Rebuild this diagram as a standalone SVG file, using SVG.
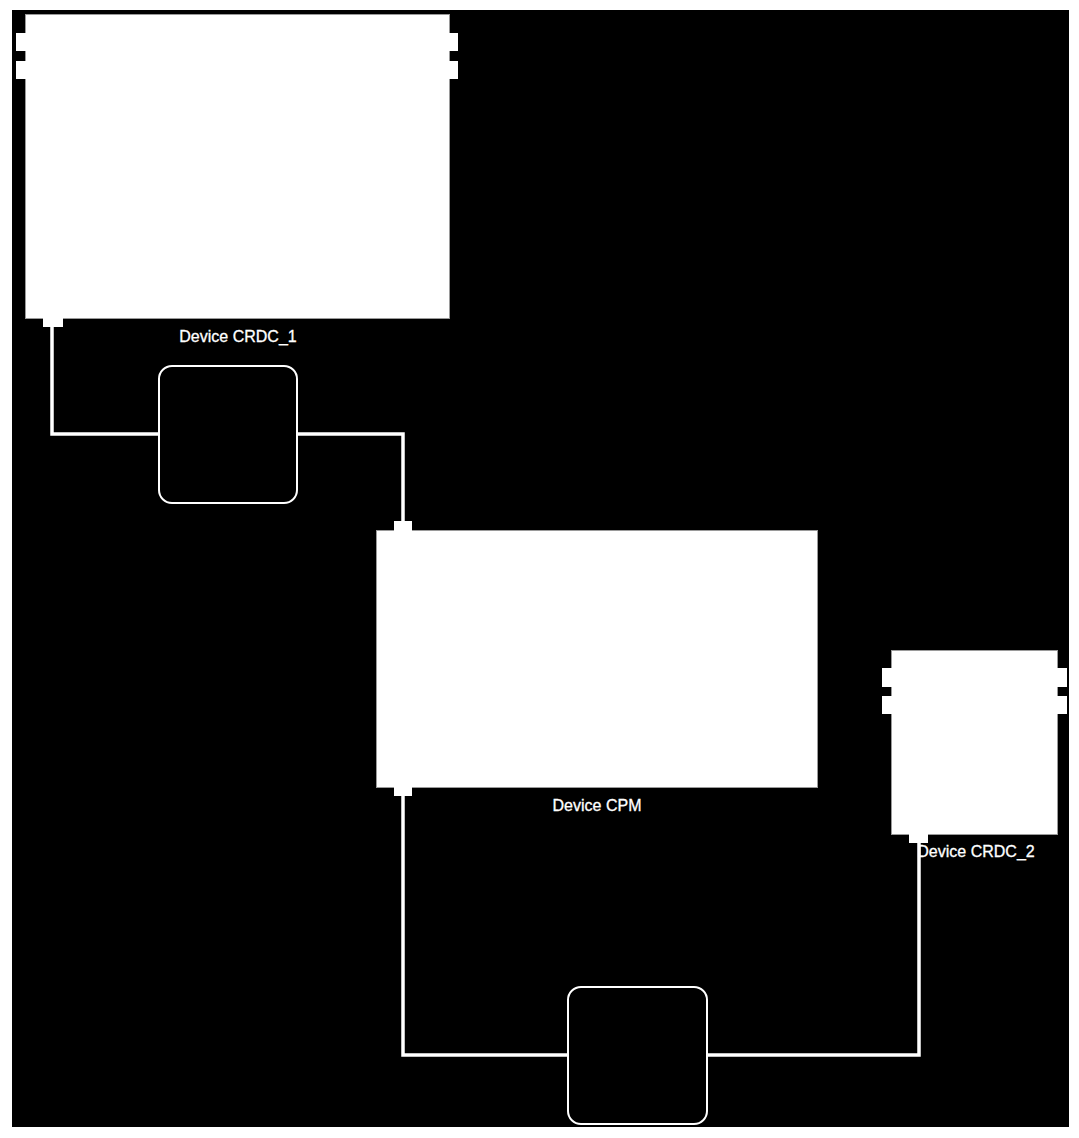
<svg xmlns="http://www.w3.org/2000/svg" width="1079" height="1138" viewBox="0 0 1079 1138">
<style>
.dev{fill:#ffffff;stroke:#9a9a9a;stroke-width:1}
.port{fill:#ffffff;stroke:none}
.link{fill:#000000;stroke:#ffffff;stroke-width:2}
.conn{fill:none;stroke:#ffffff;stroke-width:3.5}
.lbl{font-family:"Liberation Sans",Arial,sans-serif;font-size:16px;fill:#ffffff;text-anchor:middle;stroke:#ffffff;stroke-width:0.3}
</style>
<rect x="0" y="0" width="1079" height="1138" fill="#ffffff"/>
<rect x="12" y="10" width="1057" height="1117" fill="#000000"/>
<g id="connectors">
<polyline class="conn" points="52,327 52,434 159,434"/>
<polyline class="conn" points="297,434 403,434 403,521"/>
<polyline class="conn" points="403,796 403,1055 568,1055"/>
<polyline class="conn" points="707,1055 919,1055 919,843"/>
</g>
<g id="crdc1">
<rect class="dev" x="25.5" y="14.5" width="424" height="304"/>
<rect class="port" x="16" y="33" width="11" height="18"/>
<rect class="port" x="16" y="61" width="11" height="18"/>
<rect class="port" x="448" y="33" width="10" height="18"/>
<rect class="port" x="448" y="61" width="10" height="18"/>
<rect class="port" x="43" y="318" width="20" height="9"/>
<text class="lbl" x="238" y="342">Device CRDC_1</text>
</g>
<g id="link1">
<rect class="link" x="159" y="366" width="138" height="137" rx="13"/>
</g>
<g id="cpm">
<rect class="dev" x="376.5" y="530.5" width="441" height="257"/>
<rect class="port" x="394" y="521" width="18" height="10"/>
<rect class="port" x="394" y="787" width="18" height="9"/>
<text class="lbl" x="597" y="811">Device CPM</text>
</g>
<g id="crdc2">
<rect class="dev" x="891.5" y="650.5" width="166" height="184"/>
<rect class="port" x="882" y="668" width="11" height="19"/>
<rect class="port" x="882" y="696" width="11" height="18"/>
<rect class="port" x="1056" y="668" width="11" height="19"/>
<rect class="port" x="1056" y="696" width="11" height="18"/>
<rect class="port" x="909" y="834" width="19" height="9"/>
<text class="lbl" x="976" y="857">Device CRDC_2</text>
</g>
<g id="link2">
<rect class="link" x="568" y="987" width="139" height="137" rx="13"/>
</g>
</svg>
